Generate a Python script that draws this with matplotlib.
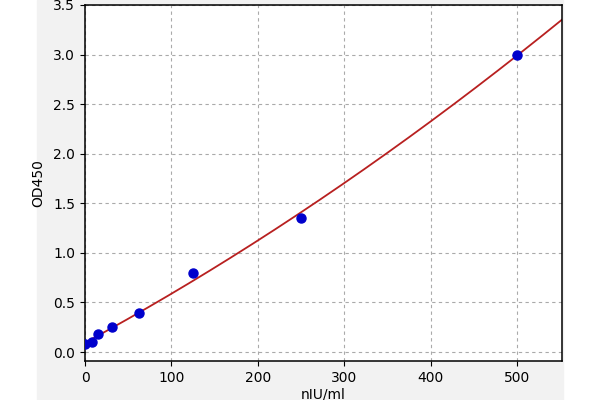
import numpy as np
import matplotlib
matplotlib.use("Agg")
import matplotlib.pyplot as plt
from matplotlib.patches import Rectangle

# standard points (concentration, OD)
conc = [0, 7.8, 15.6, 31.25, 62.5, 125, 250, 500]
od = [0.08, 0.10, 0.18, 0.255, 0.39, 0.80, 1.35, 3.0]

x_ticks = [0, 100, 200, 300, 400, 500]
y_ticks = [0.0, 0.5, 1.0, 1.5, 2.0, 2.5, 3.0, 3.5]

fig = plt.figure(figsize=(6, 4), dpi=100)
fig.patch.set_facecolor("white")
# grey canvas behind the plot
fig.patches.append(Rectangle((37 / 600, 0), (563 - 37) / 600, 1,
                             transform=fig.transFigure, color="#f2f2f2", zorder=-5))

ax = fig.add_axes([85 / 600, 1 - 361 / 400, (562 - 85) / 600, (361 - 5) / 400])
ax.set_facecolor("white")

# quadratic fit of the standards
coef = np.polyfit(conc, od, 2)
xs = np.linspace(0, 552, 300)
ax.plot(xs, np.polyval(coef, xs), color="#b82020", lw=1.3, zorder=2)
ax.plot(conc, od, "o", color="#0000cc", ms=6.5, zorder=3)

ax.set_xlim(0, 552)
ax.set_ylim(-0.09, 3.5)
ax.set_xticks(x_ticks)
ax.set_yticks(y_ticks)
ax.set_yticklabels([f"{v:.1f}" for v in y_ticks])
ax.grid(True, linestyle=(0, (3, 3)), color="#aaaaaa", linewidth=0.8)
ax.tick_params(labelsize=10)
for s in ax.spines.values():
    s.set_linewidth(1.1)

ax.set_xlabel("nIU/ml", fontsize=10, labelpad=2)
ax.set_ylabel("OD450", fontsize=10, labelpad=6)

fig.savefig("out.png", dpi=100, facecolor=fig.get_facecolor())
